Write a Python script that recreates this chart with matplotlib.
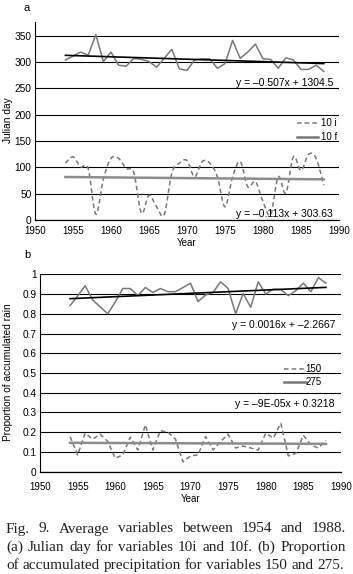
import matplotlib
matplotlib.use("Agg")
import matplotlib.pyplot as plt
import numpy as np
from matplotlib.path import Path
from matplotlib.patches import PathPatch

plt.rcParams['font.family'] = ['Liberation Sans', 'DejaVu Sans']

years = np.arange(1954, 1989)

# panel a: Julian day
day_10f = [304, 311, 319, 313, 352, 301, 319, 294, 292, 307, 305, 301, 290, 307, 324,
           287, 284, 304, 306, 306, 288, 297, 341, 307, 319, 334, 306, 305, 288, 308,
           304, 286, 286, 294, 282]
day_10i = [108, 120, 101, 98, 11, 78, 117, 117, 98, 90, 13, 47, 25, 10, 89,
           108, 113, 82, 111, 108, 82, 25, 82, 111, 63, 73, 35, 10, 82, 51,
           120, 94, 125, 117, 66]

# panel b: proportion of accumulated rain
rain_275 = [0.842, 0.89, 0.942, 0.87, 0.835, 0.80, 0.86, 0.928, 0.928, 0.892, 0.933,
            0.908, 0.928, 0.912, 0.912, 0.933, 0.955, 0.862, 0.895, 0.908, 0.962,
            0.928, 0.80, 0.903, 0.833, 0.962, 0.90, 0.925, 0.922, 0.892, 0.917,
            0.955, 0.912, 0.983, 0.955]
rain_150 = [0.178, 0.085, 0.195, 0.165, 0.19, 0.153, 0.068, 0.085, 0.175, 0.11, 0.237,
            0.11, 0.208, 0.20, 0.165, 0.05, 0.08, 0.085, 0.178, 0.11, 0.153, 0.19,
            0.12, 0.13, 0.12, 0.11, 0.195, 0.17, 0.245, 0.08, 0.093, 0.185, 0.135,
            0.12, 0.158]

eq_a_top = "y = \u20130.507x + 1304.5"
eq_a_bot = "y = \u20130.113x + 303.63"
eq_b_top = "y = 0.0016x + \u20132.2667"
eq_b_bot = "y = \u20139E-05x + 0.3218"

caption = ["Fig. 9. Average variables between 1954 and 1988.",
           "(a) Julian day for variables 10i and 10f. (b) Proportion",
           "of accumulated precipitation for variables 150 and 275."]

W, H = 353, 574
grey = '#787878'
fs = 7.0
dash = (0, (3, 2))


def smooth_path(x, y):
    # Excel-like smoothed line: cubic bezier through the points
    x = np.asarray(x, float)
    y = np.asarray(y, float)
    verts = [(x[0], y[0])]
    codes = [Path.MOVETO]
    n = len(x)
    for i in range(n - 1):
        p0 = np.array([x[max(i - 1, 0)], y[max(i - 1, 0)]])
        p1 = np.array([x[i], y[i]])
        p2 = np.array([x[i + 1], y[i + 1]])
        p3 = np.array([x[min(i + 2, n - 1)], y[min(i + 2, n - 1)]])
        c1 = p1 + (p2 - p0) / 6.0
        c2 = p2 - (p3 - p1) / 6.0
        verts += [tuple(c1), tuple(c2), tuple(p2)]
        codes += [Path.CURVE4] * 3
    return Path(verts, codes)


def style_axes(ax, yticks, ylabels, xpad):
    ax.set_xlim(1950, 1990)
    ax.set_xticks(np.arange(1950, 1991, 5))
    ax.set_yticks(yticks)
    ax.set_yticklabels(ylabels)
    ax.grid(axis='y', color='black', linewidth=0.8)
    ax.set_axisbelow(True)
    for s in ['top', 'right']:
        ax.spines[s].set_visible(False)
    ax.spines['left'].set_linewidth(0.8)
    ax.spines['bottom'].set_linewidth(0.9)
    ax.tick_params(axis='y', length=0, labelsize=fs + 0.3, pad=2.5)
    ax.tick_params(axis='x', length=0, labelsize=fs, pad=xpad)
    ax.set_xlabel("Year", fontsize=fs, labelpad=1.5)


def trend(x, y):
    k, b = np.polyfit(x, y, 1)
    return k * x + b


fig = plt.figure(figsize=(W / 100, H / 100), dpi=100)

# ---- panel a ----
axa = fig.add_axes([35 / W, 1 - 220 / H, 304 / W, 198 / H])
style_axes(axa, np.arange(0, 351, 50), [str(v) for v in range(0, 351, 50)], 4)
axa.set_ylim(0, 376)
axa.plot(years, day_10f, color=grey, lw=1.1)
axa.plot(years, trend(years, day_10f), color='black', lw=1.2)
pp = PathPatch(smooth_path(years, day_10i), facecolor='none', edgecolor=grey,
               lw=1.1, linestyle=dash)
axa.add_patch(pp)
axa.plot(years, trend(years, day_10i), color='#8c8c8c', lw=1.8)
axa.plot([], [], color=grey, lw=1.1, linestyle=dash, label='10 i')
axa.plot([], [], color=grey, lw=1.8, label='10 f')
axa.legend(loc='upper left', bbox_to_anchor=(0.845, 0.54), frameon=False, fontsize=fs,
           handlelength=2.2, handletextpad=0.3, labelspacing=0.45, borderpad=0)
axa.text(1989.2, 260, eq_a_top, fontsize=fs + 0.5, ha='right', va='center')
axa.text(1989.2, 11, eq_a_bot, fontsize=fs + 0.5, ha='right', va='center')

# ---- panel b ----
axb = fig.add_axes([40 / W, 1 - 471.7 / H, 301 / W, 197.4 / H])
style_axes(axb, np.arange(0, 1.01, 0.1),
           ['0'] + ['%.1f' % v for v in np.arange(0.1, 0.95, 0.1)] + ['1'], 7.5)
axb.set_ylim(0, 1)
axb.plot(years, rain_275, color=grey, lw=1.1)
axb.plot(years, trend(years, rain_275), color='black', lw=1.2)
axb.plot(years, rain_150, color=grey, lw=1.1, linestyle=dash)
axb.plot(years, trend(years, rain_150), color='#8c8c8c', lw=1.8)
axb.plot([], [], color=grey, lw=1.1, linestyle=dash, label='150')
axb.plot([], [], color=grey, lw=1.8, label='275')
axb.legend(loc='upper left', bbox_to_anchor=(0.795, 0.57), frameon=False, fontsize=fs,
           handlelength=2.2, handletextpad=0.0, labelspacing=0.35, borderpad=0)
axb.text(1989.2, 0.745, eq_b_top, fontsize=fs + 0.5, ha='right', va='center')
axb.text(1989.2, 0.345, eq_b_bot, fontsize=fs + 0.5, ha='right', va='center')

# labels
fig.text(27 / W, 1 - 8 / H, 'a', fontsize=fs + 1, ha='center', va='center')
fig.text(27 / W, 1 - 255 / H, 'b', fontsize=fs + 1, ha='center', va='center')
fig.text(8 / W, 1 - 120 / H, 'Julian day', rotation=90, fontsize=fs + 0.3,
         ha='center', va='center')
fig.text(8 / W, 1 - 372 / H, 'Proportion of accumulated rain', rotation=90,
         fontsize=fs + 0.3, ha='center', va='center')

# caption: font sized so the last line fills the column, lines justified
r = fig.canvas.get_renderer()
x0, x1 = 6, 344
probe = fig.text(0, 0, caption[2], fontsize=10, family='Liberation Serif')
cap_fs = 10 * (x1 - x0) / probe.get_window_extent(r).width
probe.remove()
for i, line in enumerate(caption):
    words = line.split(' ')
    y = 1 - (532.5 + 18.3 * i) / H
    ts = [fig.text(0, y, w, fontsize=cap_fs, family='Liberation Serif', va='baseline',
                   color='#222222') for w in words]
    widths = [t.get_window_extent(r).width for t in ts]
    right = 346 if i < 2 else x1
    gap = (right - x0 - sum(widths)) / (len(words) - 1)
    x = x0
    for t, w in zip(ts, widths):
        t.set_x(x / W)
        x += w + gap

fig.savefig('out.png', dpi=100)
